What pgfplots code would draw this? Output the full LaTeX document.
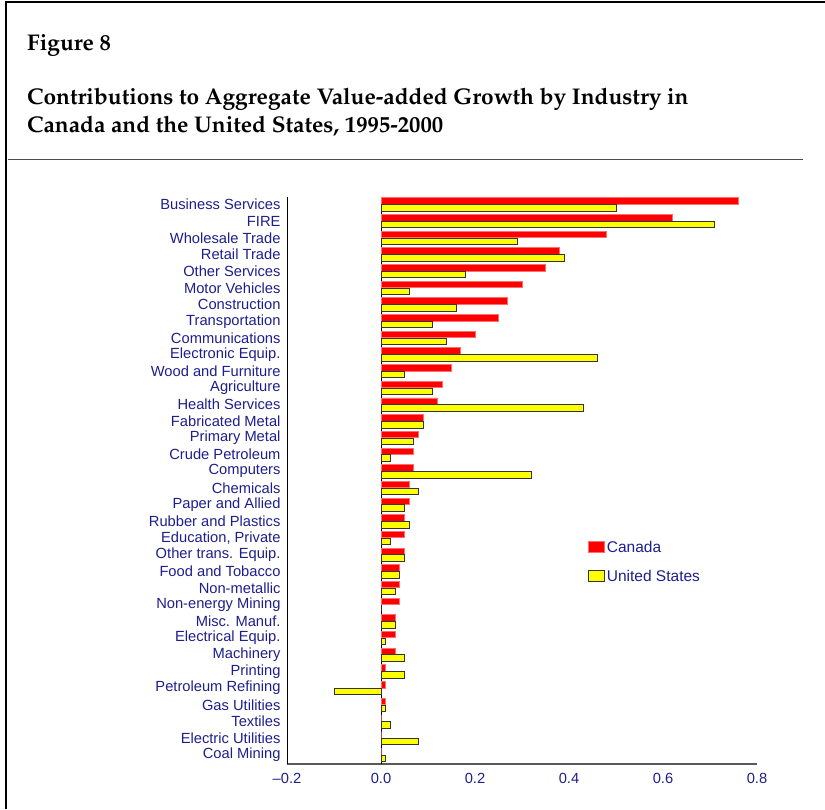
\documentclass[border=0pt]{standalone}
\usepackage[T1]{fontenc}
\usepackage{fontspec}
\setmainfont{Liberation Sans}
\usepackage{pgfplots}
\pgfplotsset{compat=1.18}
\usepackage{pgfplotstable}
\definecolor{navy}{RGB}{30,30,140}
\definecolor{canred}{RGB}{255,0,0}
\definecolor{canedge}{RGB}{255,110,110}
\definecolor{usyel}{RGB}{255,255,0}
\newcommand\titlefont{\fontencoding{T1}\fontfamily{ppl}\fontseries{b}\fontshape{n}\fontsize{22.7}{28}\selectfont}

\pgfplotstableread{
idx can us
0 0.76 0.50
1 0.62 0.71
2 0.48 0.29
3 0.38 0.39
4 0.35 0.18
5 0.30 0.06
6 0.27 0.16
7 0.25 0.11
8 0.20 0.14
9 0.17 0.46
10 0.15 0.05
11 0.13 0.11
12 0.12 0.43
13 0.09 0.09
14 0.08 0.07
15 0.07 0.02
16 0.07 0.32
17 0.06 0.08
18 0.06 0.05
19 0.05 0.06
20 0.05 0.02
21 0.05 0.05
22 0.04 0.04
23 0.04 0.03
24 0.04 0.00
25 0.03 0.03
26 0.03 0.01
27 0.03 0.05
28 0.01 0.05
29 0.01 -0.10
30 0.01 0.01
31 0.00 0.02
32 0.00 0.08
33 0.00 0.01
}\data

\begin{document}
\begin{tikzpicture}[x=1pt,y=1pt]
\path[use as bounding box] (0,0) rectangle (825,809);
% frame
\draw[black,line width=1.5pt] (6,0) -- (6,807) -- (825,807);
\draw[black!70,line width=1pt] (8,649) -- (803,649);
% title
\node[anchor=base west,inner sep=0,text=black] at (27,758) {\titlefont Figure 8};
\node[anchor=base west,inner sep=0,text=black] at (27,704) {\titlefont Contributions to Aggregate Value-added Growth by Industry in};
\node[anchor=base west,inner sep=0,text=black] at (27,676) {\titlefont Canada and the United States, 1995-2000};

\begin{axis}[
  at={(287pt,45pt)}, anchor=south west,
  scale only axis, width=470pt, height=567pt,
  xmin=-0.2, xmax=0.8,
  ymin=-0.45, ymax=33.55,
  y dir=reverse,
  axis x line*=bottom, axis y line*=left,
  x axis line style={black!65,line width=1.2pt,-},
  y axis line style={black,line width=0.9pt,-},
  major tick length=0pt,
  xtick={-0.2,0,0.2,0.4,0.6,0.8},
  xticklabels={{--0.2},0.0,0.2,0.4,0.6,0.8},
  ytick={0,...,33},
  yticklabels={Business Services,FIRE,Wholesale Trade,Retail Trade,Other Services,Motor Vehicles,Construction,Transportation,Communications,Electronic Equip.,Wood and Furniture,Agriculture,Health Services,Fabricated Metal,Primary Metal,Crude Petroleum,Computers,Chemicals,Paper and Allied,Rubber and Plastics,{Education, Private},Other trans. Equip.,Food and Tobacco,Non-metallic,Non-energy Mining,Misc. Manuf.,Electrical Equip.,Machinery,Printing,Petroleum Refining,Gas Utilities,Textiles,Electric Utilities,Coal Mining},
  tick label style={font=\fontsize{14.7}{16}\selectfont, text=navy},
  yticklabel style={xshift=-3pt},
  xticklabel style={yshift=-6pt},
  extra x ticks={0},
  extra x tick labels={},
  extra x tick style={grid=major, major grid style={black,line width=0.9pt}},
  xbar, bar width=6.5pt,
  legend style={at={(0.64,0.397)}, anchor=north west, draw=none, fill=none,
    font=\fontsize{15.5}{17}\selectfont, text=navy, row sep=12pt, inner sep=0pt,
    legend cell align=left},
  clip=false,
]
\addplot[xbar, bar shift=3.4pt, fill=canred, draw=canedge, line width=0.9pt,
  legend image code/.code={\draw[fill=canred,draw=canedge,line width=0.9pt] (0pt,-5pt) rectangle (16pt,6pt);}]
  table[x=can, y=idx] {\data};
\addlegendentry{Canada}
\addplot[xbar, bar shift=-3.4pt, fill=usyel, draw=black!80, line width=0.9pt,
  legend image code/.code={\draw[fill=usyel,draw=black!80,line width=0.9pt] (0pt,-5pt) rectangle (16pt,6pt);}]
  table[x=us, y=idx] {\data};
\addlegendentry{United States}
\end{axis}
\end{tikzpicture}
\end{document}
